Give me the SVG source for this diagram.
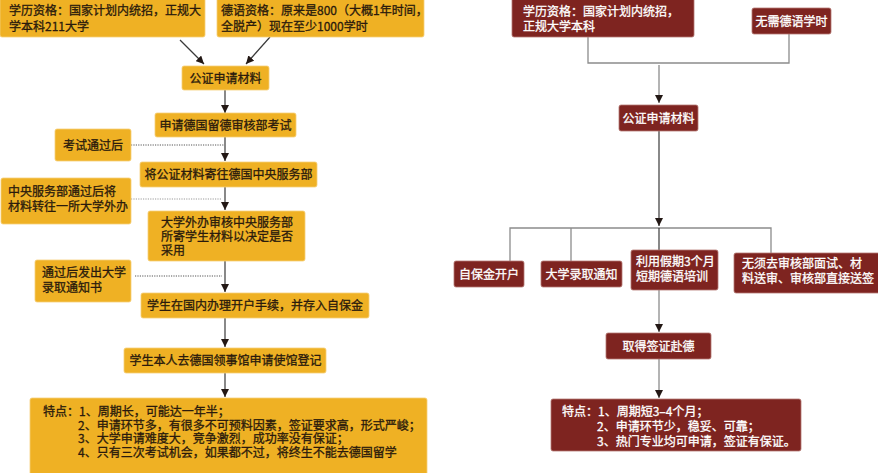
<svg xmlns="http://www.w3.org/2000/svg" width="878" height="473" viewBox="0 0 878 473">
<defs>
<marker id="ah" viewBox="0 0 10 10" refX="10" refY="5" markerWidth="8" markerHeight="8" markerUnits="userSpaceOnUse" orient="auto">
<path d="M0,0 L10,5 L0,10 Z" fill="#231815"/>
</marker>
</defs>
<style>
.o{fill:#EFB124;stroke:#F6CF7A;stroke-width:0.8}
.r{fill:#7E2420;stroke:#B57A73;stroke-width:0.8}
text{font-family:"Noto Sans CJK SC","Noto Sans",sans-serif;font-size:12px;stroke-width:0.3}
.to{fill:#2A1A0C;stroke:#2A1A0C}
.tr{fill:#FFFFFF;stroke:#FFFFFF}
.c{text-anchor:middle}
.ln{fill:none;stroke:#3A3A3A;stroke-width:1.2}
.dot{fill:none;stroke:#555;stroke-width:1;stroke-dasharray:1.2,1.2}
.g{fill:none;stroke:#8C8C8C;stroke-width:1.3}
</style>
<g id="connectors">
<line class="ln" x1="180" y1="40" x2="204" y2="64" marker-end="url(#ah)"/>
<line class="ln" x1="270" y1="37" x2="246" y2="64" marker-end="url(#ah)"/>
<line class="ln" x1="225" y1="90" x2="225" y2="113" marker-end="url(#ah)"/>
<line class="ln" x1="225" y1="137" x2="225" y2="161" marker-end="url(#ah)"/>
<line class="ln" x1="225" y1="187" x2="225" y2="210" marker-end="url(#ah)"/>
<line class="ln" x1="225" y1="261" x2="225" y2="292" marker-end="url(#ah)"/>
<line class="ln" x1="225" y1="318" x2="225" y2="347" marker-end="url(#ah)"/>
<line class="ln" x1="225" y1="373" x2="225" y2="397" marker-end="url(#ah)"/>
<line class="dot" x1="131" y1="145" x2="224" y2="145"/>
<line class="dot" x1="131" y1="199" x2="222" y2="199" style="stroke:#999"/>
<line class="dot" x1="135" y1="276" x2="222" y2="276"/>
<polyline class="g" points="588,37 588,63 789,63 789,34"/>
<line class="g" x1="659" y1="65" x2="659" y2="103" marker-end="url(#ah)"/>
<line class="ln" x1="659" y1="131" x2="659" y2="226" marker-end="url(#ah)"/>
<polyline class="g" points="510,261 510,228 771,228 771,253"/>
<line class="g" x1="571" y1="228" x2="571" y2="261"/>
<line class="ln" x1="659" y1="228" x2="659" y2="250"/>
<line class="g" x1="659" y1="290" x2="659" y2="332" marker-end="url(#ah)"/>
<line class="g" x1="659" y1="359" x2="659" y2="398" marker-end="url(#ah)"/>
</g>
<g id="l1"><rect class="o" x="0" y="-2" width="205" height="39" rx="2"/><text class="to"><tspan x="9" y="14.5">学历资格：国家计划内统招，正规大</tspan><tspan x="9" y="30.5">学本科211大学</tspan></text></g>
<g id="l2"><rect class="o" x="217" y="-2" width="207" height="39" rx="2"/><text class="to"><tspan x="221" y="14.5">德语资格：原来是800（大概1年时间，</tspan><tspan x="221" y="30.5">全脱产）现在至少1000学时</tspan></text></g>
<g id="l3"><rect class="o" x="182" y="66" width="87" height="24" rx="2"/><text class="to c" x="225.5" y="82.5">公证申请材料</text></g>
<g id="l4"><rect class="o" x="155" y="113" width="141" height="24" rx="2"/><text class="to c" x="225.5" y="129.5">申请德国留德审核部考试</text></g>
<g id="l5"><rect class="o" x="55" y="129" width="76" height="32" rx="2"/><text class="to c" x="93" y="149.5">考试通过后</text></g>
<g id="l6"><rect class="o" x="140" y="162" width="177" height="25" rx="2"/><text class="to c" x="228.5" y="179">将公证材料寄往德国中央服务部</text></g>
<g id="l7"><rect class="o" x="1" y="178" width="130" height="46" rx="2"/><text class="to"><tspan x="8" y="196">中央服务部通过后将</tspan><tspan x="8" y="211">材料转往一所大学外办</tspan></text></g>
<g id="l8"><rect class="o" x="148" y="211" width="157" height="50" rx="2"/><text class="to"><tspan x="161" y="227">大学外办审核中央服务部</tspan><tspan x="161" y="241">所寄学生材料以决定是否</tspan><tspan x="161" y="255">采用</tspan></text></g>
<g id="l9"><rect class="o" x="35" y="260" width="96" height="42" rx="2"/><text class="to"><tspan x="42" y="277">通过后发出大学</tspan><tspan x="42" y="292">录取通知书</tspan></text></g>
<g id="l10"><rect class="o" x="141" y="293" width="228" height="25" rx="2"/><text class="to c" x="255" y="310">学生在国内办理开户手续，并存入自保金</text></g>
<g id="l11"><rect class="o" x="124" y="348" width="202" height="25" rx="2"/><text class="to c" x="225.5" y="365">学生本人去德国领事馆申请使馆登记</text></g>
<g id="l12"><rect class="o" x="30" y="398" width="397" height="77" rx="2"/>
<text class="to"><tspan x="43" y="416">特点：1、周期长，可能达一年半；</tspan><tspan x="78" y="429.5">2、申请环节多，有很多不可预料因素，签证要求高，形式严峻；</tspan><tspan x="78" y="443">3、大学申请难度大，竞争激烈，成功率没有保证；</tspan><tspan x="78" y="456.5">4、只有三次考试机会，如果都不过，将终生不能去德国留学</tspan></text></g>
<g id="r1"><rect class="r" x="512" y="-2" width="182" height="39" rx="2"/><text class="tr"><tspan x="523" y="16">学历资格：国家计划内统招，</tspan><tspan x="523" y="30.5">正规大学本科</tspan></text></g>
<g id="r2"><rect class="r" x="752" y="8" width="79" height="26" rx="2"/><text class="tr c" x="791.5" y="25.5">无需德语学时</text></g>
<g id="r3"><rect class="r" x="619" y="105" width="79" height="26" rx="2"/><text class="tr c" x="658.5" y="122.5">公证申请材料</text></g>
<g id="r4"><rect class="r" x="454" y="261" width="70" height="26" rx="2"/><text class="tr c" x="489" y="278.5">自保金开户</text></g>
<g id="r5"><rect class="r" x="541" y="261" width="81" height="26" rx="2"/><text class="tr c" x="581.5" y="278.5">大学录取通知</text></g>
<g id="r6"><rect class="r" x="631" y="250" width="87" height="40" rx="2"/><text class="tr"><tspan x="636" y="266">利用假期3个月</tspan><tspan x="636" y="281">短期德语培训</tspan></text></g>
<g id="r7"><rect class="r" x="734" y="253" width="146" height="40" rx="2"/><text class="tr"><tspan x="742" y="268">无须去审核部面试、材</tspan><tspan x="742" y="282.5">料送审、审核部直接送签</tspan></text></g>
<g id="r8"><rect class="r" x="606" y="333" width="105" height="26" rx="2"/><text class="tr c" x="658.5" y="350.5">取得签证赴德</text></g>
<g id="r9"><rect class="r" x="551" y="399" width="250" height="52" rx="2"/>
<text class="tr"><tspan x="562" y="416">特点：1、周期短3–4个月；</tspan><tspan x="597" y="431">2、申请环节少，稳妥、可靠；</tspan><tspan x="597" y="445.5">3、热门专业均可申请，签证有保证。</tspan></text></g>
</svg>
